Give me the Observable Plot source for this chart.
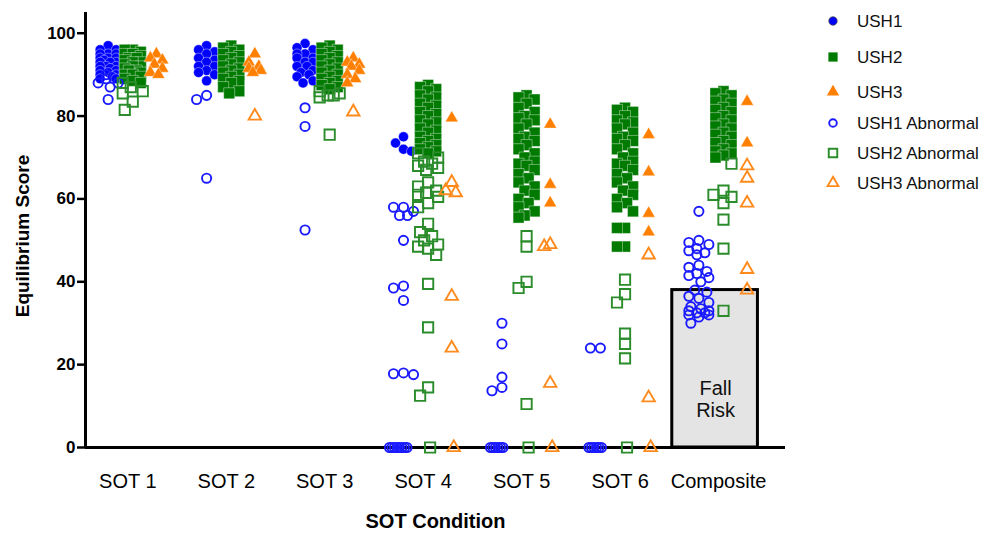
<!DOCTYPE html>
<html><head><meta charset="utf-8">
<script src="https://cdn.jsdelivr.net/npm/d3@7"></script>
<script src="https://cdn.jsdelivr.net/npm/@observablehq/plot@0.6"></script>
<style>
body{margin:0;background:#fff;font-family:"Liberation Sans",Arial,sans-serif;}
#wrap{position:relative;width:994px;height:538px;}
svg{overflow:visible;}
</style></head><body><div id="wrap"></div>
<script>
// ---------- data ----------
const categories = ["SOT 1","SOT 2","SOT 3","SOT 4","SOT 5","SOT 6","Composite"];
const seriesNames = ["USH1","USH2","USH3","USH1 Abnormal","USH2 Abnormal","USH3 Abnormal"];
const yTicks = [0,20,40,60,80,100];
const yTitle = "Equilibrium Score";
const xTitle = "SOT Condition";
const fallRiskThreshold = 38;
const fallRiskLabel = "Fall\nRisk";

const ush1 = [
  [97,96,96,95,95,95,94,94,94,93.5,93,93,93,92,92,92,91.5,91,91,90.5,90,90,89.5,89,89],
  [97,96,95.5,95,94,93.5,93,92,92,91,90.5,90,88.5],
  [97.5,96.5,96,95,95,94,94,93,93,92,92,91,90.5,90,89.5,88.5,88],
  [75,73.5,72,71.5],
  [], [], []
];
const ush2 = [
  [96,96,95.5,95,95,94.5,94,94,93.5,93,93,92.5,92,92,91.5,91,91,90.5,90,90,89.5,89,88.5,88],
  [97,96.5,96,95.5,95,94.5,94,93.5,93,92.5,92,91.5,91,90.5,90,89.5,89,88.5,88,87,86,85.5],
  [97,96.5,96,95.5,95,94.5,94,93.5,93,92.5,92,91.5,91,90.5,90,89.5,89,88.5,88,87.5,87,86.5],
  [87.5,87,86.5,86,85,84.5,84,83,82.5,82,81,80.5,80,79,78.5,78,77,76.5,76,75,74.5,74,73.5,73,72.5,72,71.5,71],
  [85,84.5,84,83,82,81,80,79.5,79,78,77,76,75,74.5,74,73,72,71,70,69,68.5,68,67,66,65,64,63,62,61,60,59,58,57,56,55.5],
  [82,81.5,81,80,79,78.5,78,77,76,75,74.5,74,73,72,71,70,69,68.5,68,67,66,65,64,63,62,61,60,59,58,57,53,53,48.5,48.5],
  [86,85.5,85,84,83.5,83,82,81.5,81,80,79.5,79,78,77.5,77,76,75.5,75,74,73.5,73,72,71.5,71,70.5,70]
];
const ush3 = [
  [95,94,93.5,92.5,91.5,90.5,90],
  [95,93,92,91.5,91,90.5],
  [94,93,92.5,92,91,90,89,88],
  [79.5],
  [78,63.5,59],
  [75.5,66.5,56.5,52],
  [83.5,73.5]
];
const ush1Abnormal = [
  [90,89,88,88,87,84],
  [85,84,65],
  [82,77.5,52.5],
  [58,58,57,56,56,50,39,38.5,35.5,18,17.8,17.6,0,0,0,0,0,0,0,0],
  [30,25,17,14.5,13.7,0,0,0,0,0,0],
  [24,24,0,0,0,0,0,0],
  [57,50,49.5,49,48,47.5,47,46.5,44,43.5,42.5,42,41.5,41,40,38,37.5,36.5,36,35,34,33.5,33,33,32.5,32.5,32,32,31.5,30]
];
const ush2Abnormal = [
  [88,87,86,85.5,83.5,81.5],
  [],
  [86,85.5,85,85,84.5,75.5],
  [71,70,69,68.5,68,67.5,67,64,63,62,61.5,61,60.5,59,58,54,52,51,50,49,48.5,48,46.5,39.5,29,14.5,12.5,0],
  [51,48.5,40,38.5,10.5,0],
  [40.5,37,35,27.5,25,21.5,0],
  [68.5,62,61,60.5,59,55,48,33]
];
const ush3Abnormal = [
  [],
  [80],
  [81],
  [64,62,61.5,36.5,24,0],
  [49,48.5,15.5,0],
  [46.5,12,0],
  [68,65,59,43,38]
];

// ---------- layout ----------
const W = 994, H = 538, mL = 85, mR = 209, mT = 12, mB = 91;
const xDomain = [-0.43, 6.68], yDomain = [0, 105];
const innerW = W - mL - mR, innerH = H - mT - mB;
const pxX = innerW / (xDomain[1] - xDomain[0]);
const pxY = innerH / (yDomain[1] - yDomain[0]);
const seriesOffset = [-0.2, 0.05, 0.29];

const filledColor = ["#0000ff", "#007a00", "#ff7f00"];
const openColor = ["#1a1aff", "#2a8c2a", "#ff8a1c"];
const symbols = ["circle", "square", "triangle"];
const filledR = [5, 6.2, 4.8];
const openR = [4.6, 5.8, 4.6];

const groups = [
  {name: seriesNames[0], s: 0, filled: true, values: ush1},
  {name: seriesNames[1], s: 1, filled: true, values: ush2},
  {name: seriesNames[2], s: 2, filled: true, values: ush3},
  {name: seriesNames[3], s: 0, filled: false, values: ush1Abnormal},
  {name: seriesNames[4], s: 1, filled: false, values: ush2Abnormal},
  {name: seriesNames[5], s: 2, filled: false, values: ush3Abnormal}
];
const rows = [];
groups.forEach(g => g.values.forEach((arr, ci) => arr.forEach(v =>
  rows.push({name: g.name, s: g.s, filled: g.filled, cat: ci, value: v, off: 0}))));

// deterministic placement within each column (reduces overlap, stays narrow)
const cols = d3.group(rows, d => d.cat + "-" + d.s);
for (const [, col] of cols) {
  col.sort((a, b) => d3.descending(a.value, b.value) || (b.filled - a.filled));
  const placed = [];
  let zi = 0;
  for (const r of col) {
    if (r.value === 0) {
      const zeroSlots = [0, -2.5, 2.5, -5, 5, -7.5, 7.5, -10, 10];
      r.off = zeroSlots[zi++ % zeroSlots.length] - (r.s === 0 ? 4 : -2);
      continue;
    }
    const half = r.s === 2 ? 6 : (r.filled ? 8 : 10);
    const cands = [0, -4, 4, -8, 8, -10, 10, -6, 6, -2, 2].filter(c => Math.abs(c) <= half);
    const py = r.value * pxY;
    let best = cands[0], bestP = Infinity;
    for (const c of cands) {
      let p = 0;
      for (const q of placed) {
        const d = Math.hypot(q.x - c, q.y - py);
        if (d < 10) p += (10 - d) * (10 - d);
      }
      if (p < bestP - 1e-9) { bestP = p; best = c; }
    }
    placed.push({x: best, y: py});
    r.off = best;
  }
}
rows.forEach(r => r.x = r.cat + seriesOffset[r.s] + r.off / pxX);

const dotMarks = [];
groups.filter(g => g.filled).forEach(g => dotMarks.push(
  Plot.dot(rows.filter(r => r.name === g.name), {x: "x", y: "value", symbol: () => symbols[g.s], r: filledR[g.s],
    fill: filledColor[g.s], stroke: "white", strokeWidth: 0.4})));
groups.filter(g => !g.filled).forEach(g => dotMarks.push(
  Plot.dot(rows.filter(r => r.name === g.name), {x: "x", y: "value", symbol: () => symbols[g.s], r: openR[g.s],
    fill: "none", stroke: openColor[g.s], strokeWidth: 1.9})));

const compIdx = categories.indexOf("Composite");
const plot = Plot.plot({
  width: W, height: H, marginLeft: mL, marginRight: mR, marginTop: mT, marginBottom: mB,
  x: {domain: xDomain},
  y: {domain: yDomain},
  symbol: {type: "identity"},
  style: {fontFamily: "'Liberation Sans', Arial, sans-serif", color: "black", background: "white"},
  marks: [
    Plot.rect([fallRiskThreshold], {x1: compIdx - 0.47, x2: compIdx + 0.40, y1: 0, y2: d => d,
      fill: "#e4e4e4", stroke: "black", strokeWidth: 3}),
    Plot.text([fallRiskLabel], {x: compIdx - 0.03, y: 11.8, text: d => d, fontSize: 20, lineHeight: 1.12, fill: "#111"}),
    Plot.ruleX([xDomain[0]], {y1: 0, y2: yDomain[1], strokeWidth: 3}),
    Plot.ruleY([0], {strokeWidth: 3}),
    Plot.axisY({ticks: yTicks, tickSize: 8, tickPadding: 2, strokeWidth: 2.5, fontSize: 17, fontWeight: "bold", label: null}),
    Plot.axisX({ticks: categories.map((_, i) => i), tickFormat: i => categories[i], tickSize: 0, tickPadding: 26, fontSize: 20, label: null}),
    Plot.text([yTitle], {text: d => d, frameAnchor: "left", dx: -63, dy: 6, rotate: -90, textAnchor: "middle", fontSize: 19, fontWeight: "bold"}),
    Plot.text([xTitle], {text: d => d, frameAnchor: "bottom", dy: 80, textAnchor: "middle", fontSize: 20, fontWeight: "bold"}),
    ...dotMarks
  ]
});
document.getElementById("wrap").appendChild(plot);

// legend drawn into the same svg
const svg = d3.select(plot);
const leg = svg.append("g").attr("aria-label", "legend").attr("text-anchor", "start");
const legY = [21, 57, 92, 123, 153, 183];
const d3sym = {circle: d3.symbolCircle, square: d3.symbolSquare, triangle: d3.symbolTriangle};
groups.forEach((g, i) => {
  const r = g.filled ? [4.2, 5.2, 4.6][g.s] : [3.8, 4.8, 4.0][g.s];
  const p = d3.symbol(d3sym[symbols[g.s]], Math.PI * r * r)();
  leg.append("path").attr("d", p).attr("transform", `translate(833,${legY[i]})`)
    .attr("fill", g.filled ? filledColor[g.s] : "none")
    .attr("stroke", g.filled ? (g.s === 0 ? "#444" : "none") : openColor[g.s])
    .attr("stroke-width", g.filled ? 0.8 : 1.9);
  leg.append("text").attr("x", 857).attr("y", legY[i]).attr("dy", "0.36em")
    .attr("text-anchor", "start").attr("font-size", 17).attr("fill", "#111").text(g.name);
});
</script></body></html>
